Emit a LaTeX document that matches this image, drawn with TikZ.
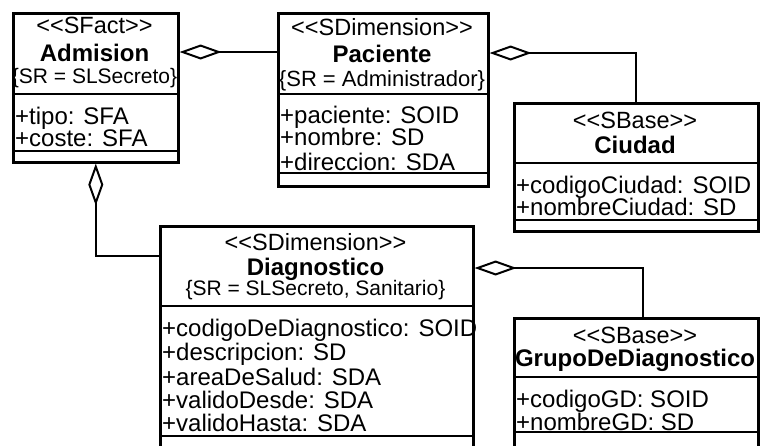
\documentclass[tikz,border=0pt]{standalone}
\usepackage{fontspec}
\setmainfont{Liberation Sans}
\usetikzlibrary{arrows.meta}
\begin{document}
\begin{tikzpicture}[x=1pt,y=-1pt,
  classbox/.style={draw, line width=2.6pt, rectangle, inner sep=0pt, anchor=north west},
  sepline/.style={line width=2.6pt},
  stereo/.style={font=\fontsize{23.5}{23.5}\selectfont, anchor=base, inner sep=0pt},
  ctitle/.style={font=\fontsize{24}{24}\selectfont\bfseries, anchor=base, inner sep=0pt},
  constr/.style={font=\fontsize{21}{21}\selectfont, anchor=base, inner sep=0pt},
  attr/.style={font=\fontsize{24}{24}\selectfont, anchor=base west, inner sep=0pt},
  agg/.style={line width=2pt, -{Diamond[open, length=42pt, width=15pt, line width=2pt]}}
]
\useasboundingbox (0,0) rectangle (760,445);

% class boxes
\node[classbox, minimum width=165pt, minimum height=149pt] (adm) at (12,12) {};
\node[classbox, minimum width=210pt, minimum height=173pt] (pac) at (277,12) {};
\node[classbox, minimum width=244pt, minimum height=128pt] (ciu) at (513,102) {};
\node[classbox, minimum width=313pt, minimum height=230pt] (dia) at (159,225) {};
\node[classbox, minimum width=244pt, minimum height=138pt] (grp) at (513,317) {};

% compartment separators
\draw[sepline] ([yshift=-82pt]adm.north west) -- ([yshift=-82pt]adm.north east);
\draw[sepline] ([yshift=-139pt]adm.north west) -- ([yshift=-139pt]adm.north east);
\draw[sepline] ([yshift=-82pt]pac.north west) -- ([yshift=-82pt]pac.north east);
\draw[sepline] ([yshift=-161pt]pac.north west) -- ([yshift=-161pt]pac.north east);
\draw[sepline] ([yshift=-61pt]ciu.north west) -- ([yshift=-61pt]ciu.north east);
\draw[sepline] ([yshift=-118pt]ciu.north west) -- ([yshift=-118pt]ciu.north east);
\draw[sepline] ([yshift=-81pt]dia.north west) -- ([yshift=-81pt]dia.north east);
\draw[sepline] ([yshift=-211pt]dia.north west) -- ([yshift=-211pt]dia.north east);
\draw[sepline] ([yshift=-60pt]grp.north west) -- ([yshift=-60pt]grp.north east);
\draw[sepline] ([yshift=-115pt]grp.north west) -- ([yshift=-115pt]grp.north east);

% Admision
\node[stereo] (admS) at (94.5,33) {<{}<SFact>{}>};
\node[ctitle] (admT) at (94.5,61) {Admision};
\node[constr] (admC) at (94.5,83) {\{SR = SLSecreto\}};
\node[attr] (admA1) at (15,124) {+tipo: SFA};
\node[attr] (admA2) at (15,146) {+coste: SFA};

% Paciente
\node[stereo] (pacS) at (382,35) {<{}<SDimension>{}>};
\node[ctitle] (pacT) at (382,62) {Paciente};
\node[constr, font=\fontsize{22}{22}\selectfont] (pacC) at (382,86) {\{SR = Administrador\}};
\node[attr] (pacA1) at (280,123) {+paciente: SOID};
\node[attr] (pacA2) at (280,145) {+nombre: SD};
\node[attr] (pacA3) at (280,170) {+direccion: SDA};

% Ciudad
\node[stereo] (ciuS) at (635,128) {<{}<SBase>{}>};
\node[ctitle] (ciuT) at (635,153) {Ciudad};
\node[attr] (ciuA1) at (516,193) {+codigoCiudad: SOID};
\node[attr] (ciuA2) at (516,215) {+nombreCiudad: SD};

% Diagnostico
\node[stereo] (diaS) at (315.5,250) {<{}<SDimension>{}>};
\node[ctitle] (diaT) at (315.5,275) {Diagnostico};
\node[constr] (diaC) at (315.5,295) {\{SR = SLSecreto, Sanitario\}};
\node[attr] (diaA1) at (162,336) {+codigoDeDiagnostico: SOID};
\node[attr] (diaA2) at (162,360) {+descripcion: SD};
\node[attr] (diaA3) at (162,385) {+areaDeSalud: SDA};
\node[attr] (diaA4) at (162,408) {+validoDesde: SDA};
\node[attr] (diaA5) at (162,431) {+validoHasta: SDA};

% GrupoDeDiagnostico
\node[stereo] (grpS) at (635,343) {<{}<SBase>{}>};
\node[ctitle] (grpT) at (635,366) {GrupoDeDiagnostico};
\node[attr] (grpA1) at (516,407) {+codigoGD: SOID};
\node[attr] (grpA2) at (516,430) {+nombreGD: SD};

% aggregations
\draw[agg] ([yshift=-40pt]pac.north west) -- ([yshift=-40pt]adm.north east);
\draw[agg] (ciu.north) |- ([yshift=-41pt]pac.north east);
\draw[agg] ([yshift=-31pt]dia.north west) -| (adm.south);
\draw[agg] ([xshift=7pt]grp.north) |- ([yshift=-43pt]dia.north east);
\end{tikzpicture}
\end{document}
